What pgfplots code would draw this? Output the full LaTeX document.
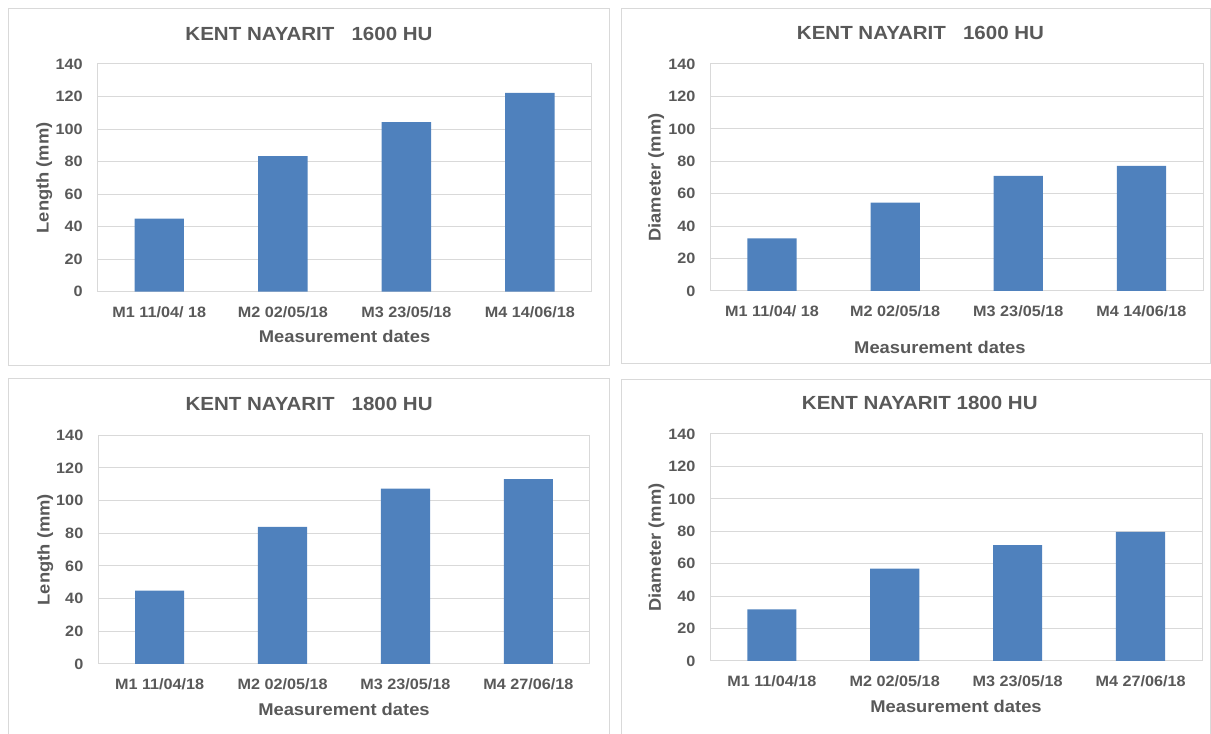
\documentclass[border=0pt]{standalone}
\usepackage{fontspec}
\setmainfont{Liberation Sans}[FakeStretch=1.08]
\usepackage{pgfplots}
\pgfplotsset{compat=1.18}
\definecolor{txt}{HTML}{595959}
\definecolor{barc}{HTML}{4F81BD}
\definecolor{grd}{HTML}{D9D9D9}
\pgfplotsset{
  panel/.style={
    scale only axis,
    ybar, bar width=0.4,
    xmin=-0.5, xmax=3.5, ymin=0, ymax=140, ytick={0,20,...,140},
    xtick={0,1,2,3},
    ymajorgrids, grid style={grd, line width=0.75pt},
    axis line style={grd, line width=0.75pt},
    major tick length=0pt,
    tick label style={font=\bfseries\fontsize{11.25}{13}\selectfont, text=txt},
    /pgf/number format/assume math mode=true,
    yticklabel style={anchor=east, inner sep=0pt, xshift=-11pt},
    xticklabel style={anchor=base, inner sep=0pt, yshift=-19pt},
    label style={font=\bfseries\fontsize{12.75}{15}\selectfont, text=txt},
    title style={font=\bfseries\fontsize{14.25}{17}\selectfont, text=txt, anchor=base},
  }
}
\begin{document}
\begin{tikzpicture}
\useasboundingbox (0,0) rectangle (908.25pt,550.5pt);
% chart frames
\draw[grd, line width=0.75pt] (6.45pt,276.225pt) rectangle (456.75pt,543.75pt);
\draw[grd, line width=0.75pt] (466.1pt,277.5pt) rectangle (907.9pt,543.75pt);
\draw[grd, line width=0.75pt] (6.45pt,-3pt) -- (6.45pt,266.25pt) -- (456.75pt,266.25pt) -- (456.75pt,-3pt);
\draw[grd, line width=0.75pt] (466.1pt,-3pt) -- (466.1pt,265.5pt) -- (907.9pt,265.5pt) -- (907.9pt,-3pt);

% Panel 1
\begin{axis}[panel, at={(73.125pt,331.725pt)}, anchor=south west,
  width=370.65pt, height=170.775pt,
  xticklabels={M1 11/04/ 18, M2 02/05/18, M3 23/05/18, M4 14/06/18},
  title={KENT NAYARIT \ \ 1600 HU}, title style={at={(axis description cs:0.428,1.07)}},
  xlabel={Measurement dates}, xlabel style={at={(axis description cs:0.5,-0.224)}, anchor=base},
  ylabel={Length (mm)}, ylabel style={at={(axis description cs:-0.0987,0.5)}, anchor=base},
]
\addplot[fill=barc, draw=none] coordinates {(0,45) (1,83.3) (2,104.2) (3,122.2)};
\end{axis}

% Panel 2
\begin{axis}[panel, at={(532.8pt,332.25pt)}, anchor=south west,
  width=369.45pt, height=170.25pt,
  xticklabels={M1 11/04/ 18, M2 02/05/18, M3 23/05/18, M4 14/06/18},
  title={KENT NAYARIT \ \ 1600 HU}, title style={at={(axis description cs:0.4265,1.071)}},
  xlabel={Measurement dates}, xlabel style={at={(axis description cs:0.466,-0.2775)}, anchor=base},
  ylabel={Diameter (mm)}, ylabel style={at={(axis description cs:-0.101,0.5)}, anchor=base},
]
\addplot[fill=barc, draw=none] coordinates {(0,32.5) (1,54.5) (2,71) (3,77.1)};
\end{axis}

% Panel 3
\begin{axis}[panel, at={(73.65pt,52.5pt)}, anchor=south west,
  width=368.7pt, height=171.525pt,
  xticklabels={M1 11/04/18, M2 02/05/18, M3 23/05/18, M4 27/06/18},
  title={KENT NAYARIT \ \ 1800 HU}, title style={at={(axis description cs:0.429,1.073)}},
  xlabel={Measurement dates}, xlabel style={at={(axis description cs:0.5,-0.226)}, anchor=base},
  ylabel={Length (mm)}, ylabel style={at={(axis description cs:-0.0987,0.5)}, anchor=base},
]
\addplot[fill=barc, draw=none] coordinates {(0,44.9) (1,84) (2,107.3) (3,113.2)};
\end{axis}

% Panel 4
\begin{axis}[panel, at={(532.8pt,54.75pt)}, anchor=south west,
  width=368.7pt, height=170.25pt,
  xticklabels={M1 11/04/18, M2 02/05/18, M3 23/05/18, M4 27/06/18},
  title={KENT NAYARIT 1800 HU}, title style={at={(axis description cs:0.426,1.071)}},
  xlabel={Measurement dates}, xlabel style={at={(axis description cs:0.4996,-0.2278)}, anchor=base},
  ylabel={Diameter (mm)}, ylabel style={at={(axis description cs:-0.101,0.5)}, anchor=base},
]
\addplot[fill=barc, draw=none] coordinates {(0,31.9) (1,57) (2,71.4) (3,79.6)};
\end{axis}
\end{tikzpicture}
\end{document}
